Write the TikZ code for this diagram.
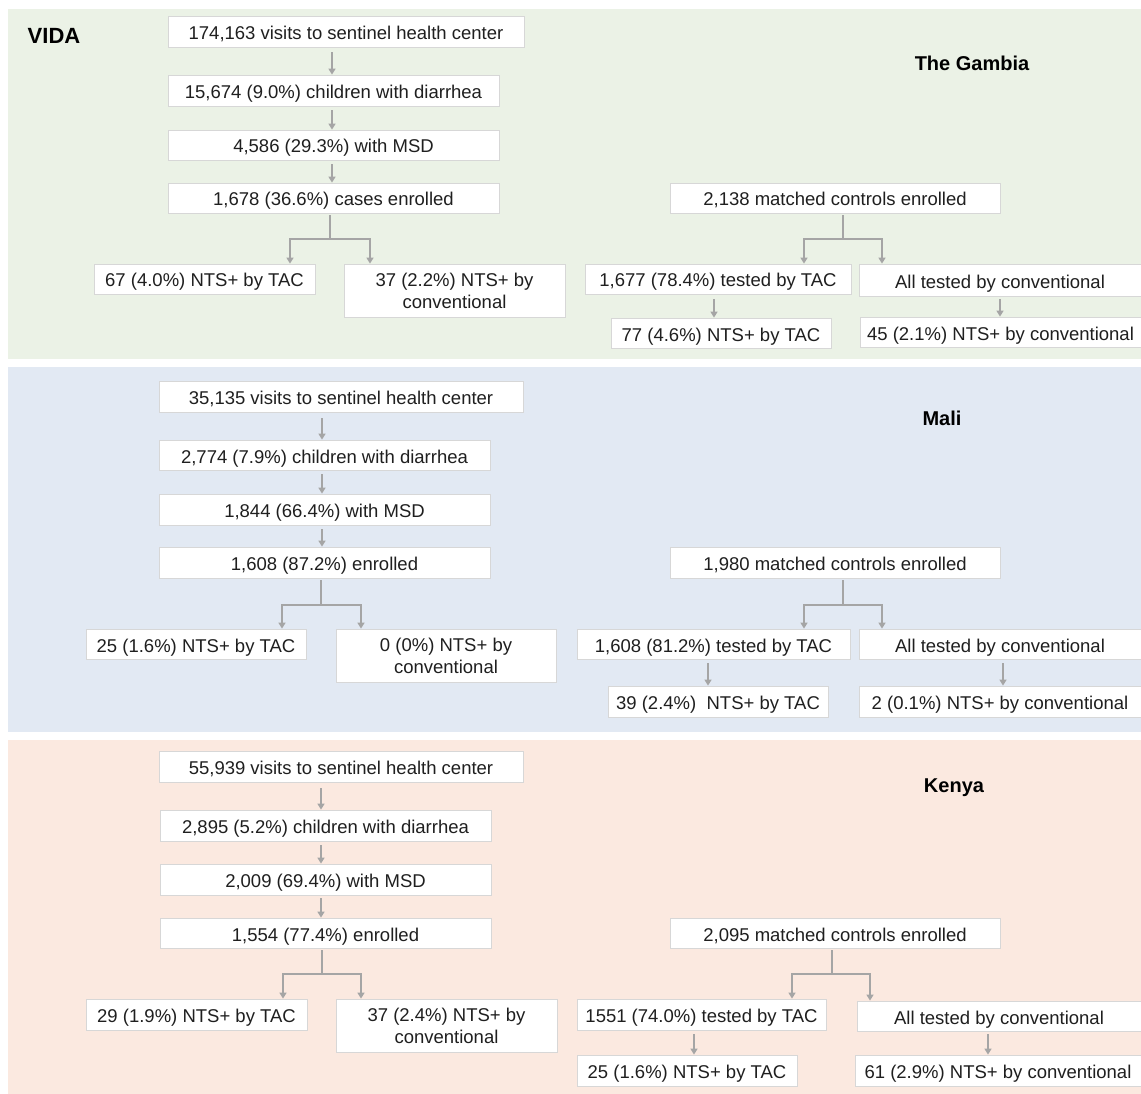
\documentclass[tikz,border=0pt]{standalone}
\usepackage{fontspec}
\setmainfont{Liberation Sans}
\usetikzlibrary{arrows.meta,calc}
\definecolor{bggreen}{RGB}{235,242,230}
\definecolor{bgblue}{RGB}{226,233,243}
\definecolor{bgpeach}{RGB}{251,233,224}
\definecolor{arrgray}{RGB}{165,165,165}
\definecolor{boxline}{RGB}{215,215,215}
\begin{document}
\begin{tikzpicture}[x=1pt,y=-1pt,
  boxbase/.style={draw=boxline, fill=white, line width=0.8pt, inner sep=0pt,
    font=\fontsize{18.5}{22}\selectfont, text=black!88, align=center},
  box/.style={boxbase, text height=17pt, text depth=1pt},
  box2/.style={boxbase},
  ttl/.style={font=\bfseries\fontsize{20}{24}\selectfont, text=black},
  arr/.style={draw=arrgray, line width=1.6pt, -{Triangle[length=6pt,width=7pt]}},
  brarr/.style={draw=arrgray, line width=2.2pt, -{Triangle[length=6pt,width=7pt]}},
  stemln/.style={draw=arrgray, line width=2.6pt}]
\useasboundingbox (0,0) rectangle (1141,1094);
\fill[white] (0,0) rectangle (1141,1094);
% backgrounds
\fill[bggreen] (8,9) rectangle (1141,359);
\fill[bgblue] (8,367) rectangle (1141,732);
\fill[bgpeach] (8,740) rectangle (1141,1094);

% ================= The Gambia =================
\node[font=\bfseries\fontsize{22}{26}\selectfont] (vida) at (54,36) {VIDA};
\node[ttl] (tgam) at (972,63) {The Gambia};
\node[box, minimum width=356, minimum height=31] (g1) at (346,31.5) {174,163 visits to sentinel health center};
\node[box, minimum width=331, minimum height=31] (g2) at (333.5,90.5) {15,674 (9.0\%) children with diarrhea};
\node[box, minimum width=331, minimum height=30] (g3) at (333.5,145) {4,586 (29.3\%) with MSD};
\node[box, minimum width=331, minimum height=30] (g4) at (333.5,198) {1,678 (36.6\%) cases enrolled};
\node[box, minimum width=221, minimum height=30] (g5) at (204.5,279) {67 (4.0\%) NTS+ by TAC};
\node[box2, minimum width=221, minimum height=53] (g6) at (454.5,290.5) {37 (2.2\%) NTS+ by\\conventional};
\node[box, minimum width=330, minimum height=30] (g7) at (835,198) {2,138 matched controls enrolled};
\node[box, minimum width=266, minimum height=30] (g8) at (718,279) {1,677 (78.4\%) tested by TAC};
\node[box, minimum width=282, minimum height=32] (g9) at (1000,280) {All tested by conventional};
\node[box, minimum width=220, minimum height=30] (g10) at (721,333) {77 (4.6\%) NTS+ by TAC};
\node[box, minimum width=281, minimum height=30] (g11) at (1000.5,332) {45 (2.1\%) NTS+ by conventional};

\coordinate (ag) at (332,0);
\draw[arr] ($(g1.south -| ag)+(0,5)$) -- (g2.north -| ag);
\draw[arr] ($(g2.south -| ag)+(0,4)$) -- (g3.north -| ag);
\draw[arr] ($(g3.south -| ag)+(0,4)$) -- (g4.north -| ag);
\coordinate (gj) at (330,239); \coordinate (gjl) at (290,239); \coordinate (gjr) at (370,239);
\draw[stemln] ($(g4.south -| gj)+(0,2)$) -- (gj);
\draw[brarr] (gj) -| (g5.north -| gjl);
\draw[brarr] (gj) -| (g6.north -| gjr);
\coordinate (gc) at (843,239); \coordinate (gcl) at (804,239); \coordinate (gcr) at (882,239);
\draw[stemln] ($(g7.south -| gc)+(0,2)$) -- (gc);
\draw[brarr] (gc) -| (g8.north -| gcl);
\draw[brarr] (gc) -| (g9.north -| gcr);
\coordinate (ag8) at (714,0); \coordinate (ag9) at (1000,0);
\draw[arr] ($(g8.south -| ag8)+(0,5)$) -- (g10.north -| ag8);
\draw[arr] ($(g9.south -| ag9)+(0,3)$) -- (g11.north -| ag9);

% ================= Mali =================
\node[ttl] (tmali) at (942,418) {Mali};
\node[box, minimum width=364, minimum height=31] (m1) at (341,396.5) {35,135 visits to sentinel health center};
\node[box, minimum width=331, minimum height=30] (m2) at (324.5,455) {2,774 (7.9\%) children with diarrhea};
\node[box, minimum width=331, minimum height=31] (m3) at (324.5,509.5) {1,844 (66.4\%) with MSD};
\node[box, minimum width=331, minimum height=31] (m4) at (324.5,562.5) {1,608 (87.2\%) enrolled};
\node[box, minimum width=220, minimum height=30] (m5) at (196,644) {25 (1.6\%) NTS+ by TAC};
\node[box2, minimum width=220, minimum height=53] (m6) at (446,655.5) {0 (0\%) NTS+ by\\conventional};
\node[box, minimum width=330, minimum height=31] (m7) at (835,562.5) {1,980 matched controls enrolled};
\node[box, minimum width=273, minimum height=30] (m8) at (713.5,644) {1,608 (81.2\%) tested by TAC};
\node[box, minimum width=282, minimum height=30] (m9) at (1000,644) {All tested by conventional};
\node[box, minimum width=220, minimum height=31] (m10) at (718,701.5) {39 (2.4\%)\ \ NTS+ by TAC};
\node[box, minimum width=282, minimum height=31] (m11) at (1000,701.5) {2 (0.1\%) NTS+ by conventional};

\coordinate (am) at (322,0);
\draw[arr] ($(m1.south -| am)+(0,6)$) -- (m2.north -| am);
\draw[arr] ($(m2.south -| am)+(0,4)$) -- (m3.north -| am);
\draw[arr] ($(m3.south -| am)+(0,4)$) -- (m4.north -| am);
\coordinate (mj) at (321,605); \coordinate (mjl) at (282,605); \coordinate (mjr) at (361,605);
\draw[stemln] ($(m4.south -| mj)+(0,2)$) -- (mj);
\draw[brarr] (mj) -| (m5.north -| mjl);
\draw[brarr] (mj) -| (m6.north -| mjr);
\coordinate (mc) at (843,605); \coordinate (mcl) at (804,605); \coordinate (mcr) at (882,605);
\draw[stemln] ($(m7.south -| mc)+(0,2)$) -- (mc);
\draw[brarr] (mc) -| (m8.north -| mcl);
\draw[brarr] (mc) -| (m9.north -| mcr);
\coordinate (am8) at (708,0); \coordinate (am9) at (1003,0);
\draw[arr] ($(m8.south -| am8)+(0,4)$) -- (m10.north -| am8);
\draw[arr] ($(m9.south -| am9)+(0,4)$) -- (m11.north -| am9);

% ================= Kenya =================
\node[ttl] (tken) at (954,788) {Kenya};
\node[box, minimum width=364, minimum height=31] (k1) at (341,766.5) {55,939 visits to sentinel health center};
\node[box, minimum width=331, minimum height=31] (k2) at (325.5,825.5) {2,895 (5.2\%) children with diarrhea};
\node[box, minimum width=331, minimum height=31] (k3) at (325.5,879.5) {2,009 (69.4\%) with MSD};
\node[box, minimum width=331, minimum height=30] (k4) at (325.5,933) {1,554 (77.4\%) enrolled};
\node[box, minimum width=221, minimum height=31] (k5) at (196.5,1014.5) {29 (1.9\%) NTS+ by TAC};
\node[box2, minimum width=221, minimum height=53] (k6) at (446.5,1025.5) {37 (2.4\%) NTS+ by\\conventional};
\node[box, minimum width=330, minimum height=30] (k7) at (835,933) {2,095 matched controls enrolled};
\node[box, minimum width=249, minimum height=31] (k8) at (701.5,1014.5) {1551 (74.0\%) tested by TAC};
\node[box, minimum width=284, minimum height=30] (k9) at (999,1016) {All tested by conventional};
\node[box, minimum width=220, minimum height=31] (k10) at (687,1070.5) {25 (1.6\%) NTS+ by TAC};
\node[box, minimum width=286, minimum height=31] (k11) at (998,1070.5) {61 (2.9\%) NTS+ by conventional};

\coordinate (ak) at (321,0);
\draw[arr] ($(k1.south -| ak)+(0,6)$) -- (k2.north -| ak);
\draw[arr] ($(k2.south -| ak)+(0,4)$) -- (k3.north -| ak);
\draw[arr] ($(k3.south -| ak)+(0,3)$) -- (k4.north -| ak);
\coordinate (kj) at (322,974); \coordinate (kjl) at (283,974); \coordinate (kjr) at (361,974);
\draw[stemln] ($(k4.south -| kj)+(0,2)$) -- (kj);
\draw[brarr] (kj) -| (k5.north -| kjl);
\draw[brarr] (kj) -| (k6.north -| kjr);
\coordinate (kc) at (832,974); \coordinate (kcl) at (792,974); \coordinate (kcr) at (870,974);
\draw[stemln] ($(k7.south -| kc)+(0,2)$) -- (kc);
\draw[brarr] (kc) -| (k8.north -| kcl);
\draw[brarr] (kc) -| (k9.north -| kcr);
\coordinate (ak8) at (694,0); \coordinate (ak9) at (988,0);
\draw[arr] ($(k8.south -| ak8)+(0,4)$) -- (k10.north -| ak8);
\draw[arr] ($(k9.south -| ak9)+(0,3)$) -- (k11.north -| ak9);
\end{tikzpicture}
\end{document}
